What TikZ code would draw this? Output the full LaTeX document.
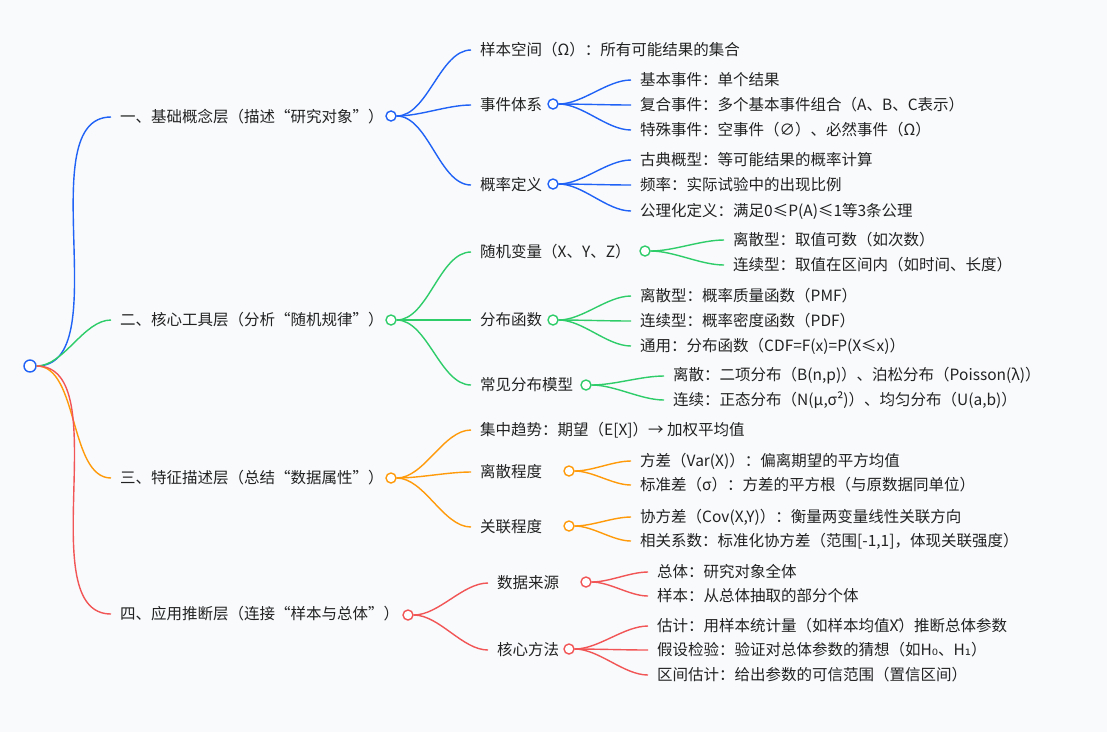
\documentclass[tikz,border=0pt]{standalone}
\usepackage{fontspec}
\setmainfont{Noto Sans CJK SC}
\newfontfamily\subfont{DejaVu Sans}
\usetikzlibrary{positioning}
\definecolor{bgc}{HTML}{F8FAFC}
\definecolor{cblue}{HTML}{1F62F5}
\definecolor{cgreen}{HTML}{2FCC6A}
\definecolor{corange}{HTML}{FF9A0A}
\definecolor{cred}{HTML}{F25555}
\definecolor{txt}{HTML}{222222}
\tikzset{
  lbl/.style={anchor=west, inner sep=0pt, text=txt, font=\fontsize{15.5}{17}\selectfont},
  dot/.style={circle, draw=#1, fill=white, line width=1.4pt, minimum size=10pt, inner sep=0pt},
  link/.style={draw=#1, line width=1.4pt, out=0, in=180, looseness=0.8}
}
\newcommand{\xbar}{X\char"0304}
\begin{document}
\begin{tikzpicture}[x=1pt,y=-1pt]
  \fill[bgc] (0,0) rectangle (1107,732);
  \useasboundingbox (0,0) rectangle (1107,732);

  % root
  \node[dot=cblue, minimum size=12pt] (root) at (30,366) {};

  % level one
  \node[lbl] (base) at (120,117) {一、基础概念层（描述“研究对象”）};
  \node[lbl] (tool) at (120,320) {二、核心工具层（分析“随机规律”）};
  \node[lbl] (feat) at (120,478) {三、特征描述层（总结“数据属性”）};
  \node[lbl] (appl) at (120,614) {四、应用推断层（连接“样本与总体”）};
  \node[dot=cblue] (baseC) at (391,116) {};
  \node[dot=cgreen] (toolC) at (391,320) {};
  \node[dot=corange] (featC) at (391,478) {};
  \node[dot=cred] (applC) at (408,615) {};
  \draw[link=cblue] (root) to ([xshift=-9pt]base.west);
  \draw[link=cgreen] (root) to ([xshift=-9pt]tool.west);
  \draw[link=corange] (root) to ([xshift=-9pt]feat.west);
  \draw[link=cred] (root) to ([xshift=-9pt]appl.west);

  % blue branch
  \node[lbl] (space) at (480,50) {样本空间（Ω）：所有可能结果的集合};
  \node[lbl] (event) at (480,105) {事件体系};
  \node[lbl] (probdef) at (480,185) {概率定义};
  \node[dot=cblue] (eventC) at (553,104) {};
  \node[dot=cblue] (probdefC) at (553,184) {};
  \foreach \t in {space,event,probdef}
    \draw[link=cblue] (baseC) to ([xshift=-9pt]\t.west);
  \node[lbl] (ev1) at (640,80) {基本事件：单个结果};
  \node[lbl] (ev2) at (640,105) {复合事件：多个基本事件组合（A、B、C表示）};
  \node[lbl] (ev3) at (640,130) {特殊事件：空事件（∅）、必然事件（Ω）};
  \node[lbl] (pd1) at (640,160) {古典概型：等可能结果的概率计算};
  \node[lbl] (pd2) at (640,185) {频率：实际试验中的出现比例};
  \node[lbl] (pd3) at (640,211) {公理化定义：满足0≤P(A)≤1等3条公理};
  \foreach \t in {ev1,ev2,ev3}
    \draw[link=cblue] (eventC) to ([xshift=-9pt]\t.west);
  \foreach \t in {pd1,pd2,pd3}
    \draw[link=cblue] (probdefC) to ([xshift=-9pt]\t.west);

  % green branch
  \node[lbl] (rv) at (480,252) {随机变量（X、Y、Z）};
  \node[lbl] (dist) at (480,320) {分布函数};
  \node[lbl] (model) at (480,385) {常见分布模型};
  \node[dot=cgreen] (rvC) at (645,251) {};
  \node[dot=cgreen] (distC) at (553,320) {};
  \node[dot=cgreen] (modelC) at (586,385) {};
  \foreach \t in {rv,dist,model}
    \draw[link=cgreen] (toolC) to ([xshift=-9pt]\t.west);
  \node[lbl] (rv1) at (733,240) {离散型：取值可数（如次数）};
  \node[lbl] (rv2) at (733,265) {连续型：取值在区间内（如时间、长度）};
  \node[lbl] (di1) at (640,296) {离散型：概率质量函数（PMF）};
  \node[lbl] (di2) at (640,321) {连续型：概率密度函数（PDF）};
  \node[lbl] (di3) at (640,346) {通用：分布函数（CDF=F(x)=P(X≤x)）};
  \node[lbl] (mo1) at (673,376) {离散：二项分布（B(n,p)）、泊松分布（Poisson(λ)）};
  \node[lbl] (mo2) at (673,400) {连续：正态分布（N(μ,σ²)）、均匀分布（U(a,b)）};
  \foreach \t in {rv1,rv2}
    \draw[link=cgreen] (rvC) to ([xshift=-9pt]\t.west);
  \foreach \t in {di1,di2,di3}
    \draw[link=cgreen] (distC) to ([xshift=-9pt]\t.west);
  \foreach \t in {mo1,mo2}
    \draw[link=cgreen] (modelC) to ([xshift=-9pt]\t.west);

  % orange branch
  \node[lbl] (center) at (480,430) {集中趋势：期望（E[X]）→ 加权平均值};
  \node[lbl] (spread) at (480,472) {离散程度};
  \node[lbl] (corr) at (480,527) {关联程度};
  \node[dot=corange] (spreadC) at (569,471) {};
  \node[dot=corange] (corrC) at (569,526) {};
  \foreach \t in {center,spread,corr}
    \draw[link=corange] (featC) to ([xshift=-9pt]\t.west);
  \node[lbl] (sp1) at (640,461) {方差（Var(X)）：偏离期望的平方均值};
  \node[lbl] (sp2) at (640,485) {标准差（σ）：方差的平方根（与原数据同单位）};
  \node[lbl] (co1) at (640,517) {协方差（Cov(X,Y)）：衡量两变量线性关联方向};
  \node[lbl] (co2) at (640,541) {相关系数：标准化协方差（范围[-1,1]，体现关联强度）};
  \foreach \t in {sp1,sp2}
    \draw[link=corange] (spreadC) to ([xshift=-9pt]\t.west);
  \foreach \t in {co1,co2}
    \draw[link=corange] (corrC) to ([xshift=-9pt]\t.west);

  % red branch
  \node[lbl] (source) at (497,583) {数据来源};
  \node[lbl] (method) at (497,650) {核心方法};
  \node[dot=cred] (sourceC) at (586,582) {};
  \node[dot=cred] (methodC) at (569,649) {};
  \foreach \t in {source,method}
    \draw[link=cred] (applC) to ([xshift=-9pt]\t.west);
  \node[lbl] (so1) at (657,572) {总体：研究对象全体};
  \node[lbl] (so2) at (657,596) {样本：从总体抽取的部分个体};
  \node[lbl] (me1) at (657,626) {估计：用样本统计量（如样本均值\xbar）推断总体参数};
  \node[lbl] (me2) at (657,650) {假设检验：验证对总体参数的猜想（如H{\subfont ₀}、H{\subfont ₁}）};
  \node[lbl] (me3) at (657,675) {区间估计：给出参数的可信范围（置信区间）};
  \foreach \t in {so1,so2}
    \draw[link=cred] (sourceC) to ([xshift=-9pt]\t.west);
  \foreach \t in {me1,me2,me3}
    \draw[link=cred] (methodC) to ([xshift=-9pt]\t.west);
\end{tikzpicture}
\end{document}
